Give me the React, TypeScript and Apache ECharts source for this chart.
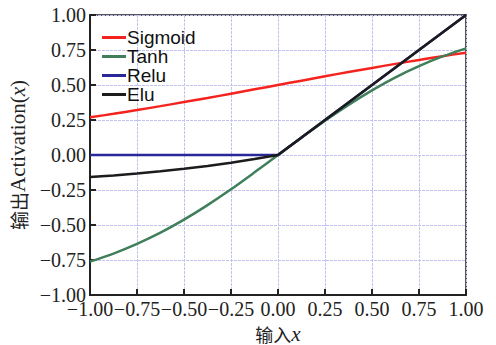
import React, { useEffect, useRef } from "react";
import * as echarts from "echarts";

const xValues = [-1, -0.875, -0.75, -0.625, -0.5, -0.375, -0.25, -0.125, 0, 0.125, 0.25, 0.375, 0.5, 0.625, 0.75, 0.875, 1];
const sigmoidValues = [0.269, 0.294, 0.321, 0.349, 0.378, 0.407, 0.438, 0.469, 0.5, 0.531, 0.562, 0.593, 0.622, 0.651, 0.679, 0.706, 0.731];
const tanhValues = [-0.762, -0.704, -0.635, -0.555, -0.462, -0.358, -0.245, -0.124, 0, 0.124, 0.245, 0.358, 0.462, 0.555, 0.635, 0.704, 0.762];
const reluValues = [0, 0, 0, 0, 0, 0, 0, 0, 0, 0.125, 0.25, 0.375, 0.5, 0.625, 0.75, 0.875, 1];
const eluValues = [-0.158, -0.146, -0.132, -0.116, -0.098, -0.078, -0.055, -0.029, 0, 0.125, 0.25, 0.375, 0.5, 0.625, 0.75, 0.875, 1];
const seriesNames = ["Sigmoid", "Tanh", "Relu", "Elu"];
const seriesColors = ["#f5231e", "#3f7f5a", "#28289a", "#1c1c1c"];

const pair = (ys: number[]) => xValues.map((x, i) => [x, ys[i]]);
const fmt = (v: number) => v.toFixed(2).replace("-", "\u2212");

export default function App() {
  const ref = useRef<HTMLDivElement>(null);
  useEffect(() => {
    if (!ref.current) return;
    const chart = echarts.init(ref.current, null, { renderer: "svg", width: 496, height: 345 });
    const serif = "'Liberation Serif', 'Times New Roman', serif";
    const all = [sigmoidValues, tanhValues, reluValues, eluValues];
    chart.setOption({
      animation: false,
      backgroundColor: "#ffffff",
      grid: {
        left: 90, right: 30, top: 15, bottom: 50,
        containLabel: false, outerBoundsMode: "none",
        show: true, borderColor: "#555", borderWidth: 2, backgroundColor: "transparent",
      },
      legend: {
        orient: "vertical",
        left: 97,
        top: 23,
        itemWidth: 24,
        itemHeight: 3,
        itemGap: 0,
        icon: "rect",
        data: seriesNames,
        textStyle: { fontFamily: "'Liberation Sans', Arial, sans-serif", fontSize: 19, color: "#111", padding: [0, 0, 0, -4], lineHeight: 18 },
      },
      xAxis: {
        type: "value",
        min: -1,
        max: 1,
        interval: 0.25,
        name: "{c|输入}{i|x}",
        nameLocation: "middle",
        nameGap: 20,
        nameTextStyle: {
          lineHeight: 18,
          rich: {
            c: { fontFamily: "'Noto Sans CJK SC', sans-serif", fontSize: 18, color: "#222", lineHeight: 18 },
            i: { fontFamily: serif, fontStyle: "italic", fontSize: 21, color: "#222", lineHeight: 18 },
          },
        },
        axisLine: { onZero: false, lineStyle: { color: "#222", width: 2 } },
        axisTick: { inside: true, length: 6, lineStyle: { color: "#222", width: 2 } },
        axisLabel: { formatter: fmt, fontFamily: serif, fontSize: 20, color: "#222", margin: 4, showMinLabel: true, showMaxLabel: true },
        splitLine: { show: true, lineStyle: { color: "#c2c2ee", width: 1, type: [3, 1] } },
      },
      yAxis: {
        type: "value",
        min: -1,
        max: 1,
        interval: 0.25,
        name: "{c|输出}{s|Activation(}{i|x}{s|)}",
        nameLocation: "middle",
        nameGap: 55,
        nameTextStyle: {
          rich: {
            c: { fontFamily: "'Noto Sans CJK SC', sans-serif", fontSize: 19, color: "#222" },
            s: { fontFamily: serif, fontSize: 21, color: "#222" },
            i: { fontFamily: serif, fontStyle: "italic", fontSize: 21, color: "#222" },
          },
        },
        axisLine: { onZero: false, lineStyle: { color: "#222", width: 2 } },
        axisTick: { inside: true, length: 6, lineStyle: { color: "#222", width: 2 } },
        axisLabel: { formatter: fmt, fontFamily: serif, fontSize: 20, color: "#222", margin: 4 },
        splitLine: { show: true, lineStyle: { color: "#c2c2ee", width: 1, type: [3, 1] } },
      },
      series: seriesNames.map((name, k) => ({
        name,
        type: "line",
        data: pair(all[k]),
        smooth: k === 0 || k === 1 ? 0.3 : false,
        symbol: "none",
        lineStyle: { color: seriesColors[k], width: 2.5 },
        itemStyle: { color: seriesColors[k] },
        z: 2 + k,
      })),
    });
    return () => chart.dispose();
  }, []);
  return <div ref={ref} style={{ position: "absolute", left: 0, top: 0, width: 496, height: 345 }} />;
}
